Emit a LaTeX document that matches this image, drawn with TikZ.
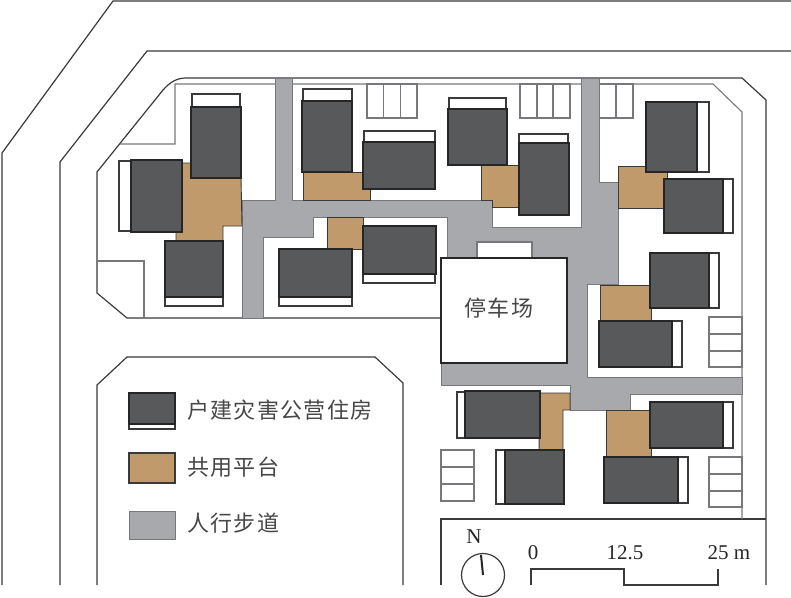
\documentclass[tikz,border=0pt]{standalone}
\usepackage{fontspec}
\setmainfont{Liberation Serif}
\newfontfamily\cjk[LetterSpace=6]{Noto Sans CJK SC}
\definecolor{bdark}{HTML}{58595B}
\definecolor{bbrown}{HTML}{C19A6B}
\definecolor{bgray}{HTML}{A7A9AC}
\definecolor{lin}{HTML}{3A3A3C}
\definecolor{thin}{HTML}{77787B}
\tikzset{
  road/.style={draw=lin,line width=1.2pt,line join=miter},
  thinline/.style={draw=thin,line width=1.1pt},
  walk/.style={fill=bgray,draw=thin,line width=0.8pt},
  deck/.style={fill=bbrown,draw=lin,line width=0.9pt},
  plot/.style={fill=white,draw=lin,line width=1.1pt},
  house/.style={fill=bdark,draw=black!85,line width=1.3pt},
  lab/.style={font=\fontsize{22}{26}\selectfont\cjk,text=black!72,inner sep=0pt},
  num/.style={font=\fontsize{21}{24}\selectfont,text=black!85,inner sep=0pt},
}
\newcommand{\bld}[8]{%
  \draw[plot] (#1,#2) rectangle (#3,#4);
  \draw[house] (#5,#6) rectangle (#7,#8);}
\begin{document}
\begin{tikzpicture}[x=1pt,y=-1pt]
\useasboundingbox (0,0) rectangle (791,597);
\fill[white] (0,0) rectangle (791,597);
% roads
\draw[road] (2,585) -- (2,153) -- (113,1) -- (791,1);
\draw[road] (60,585) -- (60,162) -- (147,51) -- (791,51);
% site outline
\draw[road] (441,318) -- (127,318) -- (97,293) -- (97,172) -- (163,90) .. controls (170,82) and (177,78) .. (186,78) -- (742,78) -- (766,100) -- (766,585);
\draw[road] (441,585) -- (441,519) -- (766,519);
% thin interior lines
\draw[thinline] (120,144) -- (175,144) -- (175,84) -- (713,84) -- (742,112) -- (742,519);
\draw[thinline] (97,261) -- (144,261) -- (144,318);
% parking stalls
\draw[thinline] (367,84) rectangle (417,118) (383.7,84) -- (383.7,118) (400.3,84) -- (400.3,118);
\draw[thinline] (520,84) rectangle (570,118) (537,84) -- (537,118) (553,84) -- (553,118);
\draw[thinline] (599,84) rectangle (633,118) (616,84) -- (616,118);
\draw[thinline] (709,317) rectangle (742,367) (709,334) -- (742,334) (709,351) -- (742,351);
\draw[thinline] (441,450) rectangle (474,501) (441,467) -- (474,467) (441,484) -- (474,484);
\draw[thinline] (709,457) rectangle (742,507) (709,474) -- (742,474) (709,491) -- (742,491);
% walkways
\draw[walk] (275,78) -- (292,78) -- (292,200) -- (492,200) -- (492,227) -- (581,227) -- (581,78) -- (599,78) -- (599,182) -- (618,182) -- (618,284) -- (587,284) -- (587,377) -- (742,377) -- (742,394) -- (630,394) -- (630,410) -- (570,410) -- (570,385) -- (441,385) -- (441,363) -- (447,363) -- (447,217) -- (313,217) -- (313,237) -- (263,237) -- (263,318) -- (242,318) -- (242,200) -- (275,200) -- cycle;
% parking lot
\draw[thinline,fill=white] (477,258) rectangle (532,242);
\node[draw=black!85,line width=2.6pt,fill=white,minimum width=126pt,minimum height=105pt,inner sep=0pt,outer sep=0pt,anchor=north west] (lot) at (441,258) {};
\node[lab] (lotlabel) at (499,308) {停车场};
% decks
\draw[deck] (182,163) -- (191,163) -- (191,178) -- (241,178) -- (242,226) -- (223,226) -- (223,241) -- (176,241) -- (176,232) -- (182,232) -- cycle;
\draw[deck] (303,172) -- (363,172) -- (363,189) -- (370,189) -- (370,200) -- (303,200) -- cycle;
\draw[deck] (481,165) -- (519,165) -- (519,207) -- (492,207) -- (492,200) -- (481,200) -- cycle;
\draw[deck] (327,217) rectangle (363,249);
\draw[deck] (618,166) -- (646,166) -- (646,172) -- (667,172) -- (667,179) -- (664,179) -- (664,208) -- (618,208) -- cycle;
\draw[deck] (600,285) rectangle (651,321);
\draw[deck] (540,393) -- (570,393) -- (570,410) -- (563,410) -- (563,450) -- (539,450) -- cycle;
\draw[deck] (606,410) rectangle (651,457);
% houses
\bld{192}{94}{240}{178}{191}{107}{241}{178}
\bld{119}{161}{181}{231}{131}{160}{182}{232}
\bld{165}{241}{223}{306}{165}{241}{223}{297}
\bld{303}{89}{352}{172}{302}{101}{352}{172}
\bld{364}{131}{435}{189}{363}{142}{435}{189}
\bld{449}{98}{506}{165}{448}{109}{507}{165}
\bld{519}{134}{568}{215}{519}{143}{569}{215}
\bld{279}{249}{352}{306}{279}{249}{352}{297}
\bld{363}{226}{435}{283}{363}{226}{436}{274}
\bld{646}{102}{709}{172}{646}{102}{697}{172}
\bld{664}{179}{733}{233}{664}{179}{723}{233}
\bld{650}{253}{719}{308}{650}{253}{709}{308}
\bld{599}{321}{682}{367}{599}{321}{672}{367}
\bld{457}{392}{540}{438}{465}{391}{540}{438}
\bld{496}{450}{564}{504}{505}{450}{564}{504}
\bld{650}{402}{733}{448}{650}{402}{723}{448}
\bld{604}{457}{688}{503}{604}{457}{678}{503}
% legend
\draw[road] (97,585) -- (97,385) -- (127,357) -- (375,357) -- (403,383) -- (403,585);
\bld{129}{393}{175}{429}{129}{393}{175}{424}
\draw[deck,line width=1.2pt] (129,453) rectangle (175,483);
\draw[walk,line width=1pt] (129,511) rectangle (175,539);
\node[lab,anchor=west] (leg1) at (187,410) {户建灾害公营住房};
\node[lab,anchor=west] (leg2) at (187,467) {共用平台};
\node[lab,anchor=west] (leg3) at (187,523) {人行步道};
% north arrow
\node[num] (north) at (474,537) {N};
\node[circle,draw=lin,line width=1.2pt,minimum size=43pt,inner sep=0pt,outer sep=0pt] (compass) at (483,575) {};
\draw[line width=2pt,draw=black!85] (481,555) -- (compass.center);
% scale bar
\draw[draw=lin,line width=1.2pt] (531,585) -- (531,569) -- (624,569) -- (624,585) -- (718,585) -- (718,569);
\node[num] (s0) at (533,553) {0};
\node[num] (s1) at (625,553) {12.5};
\node[num] (s2) at (729,553) {25 m};
\end{tikzpicture}
\end{document}
